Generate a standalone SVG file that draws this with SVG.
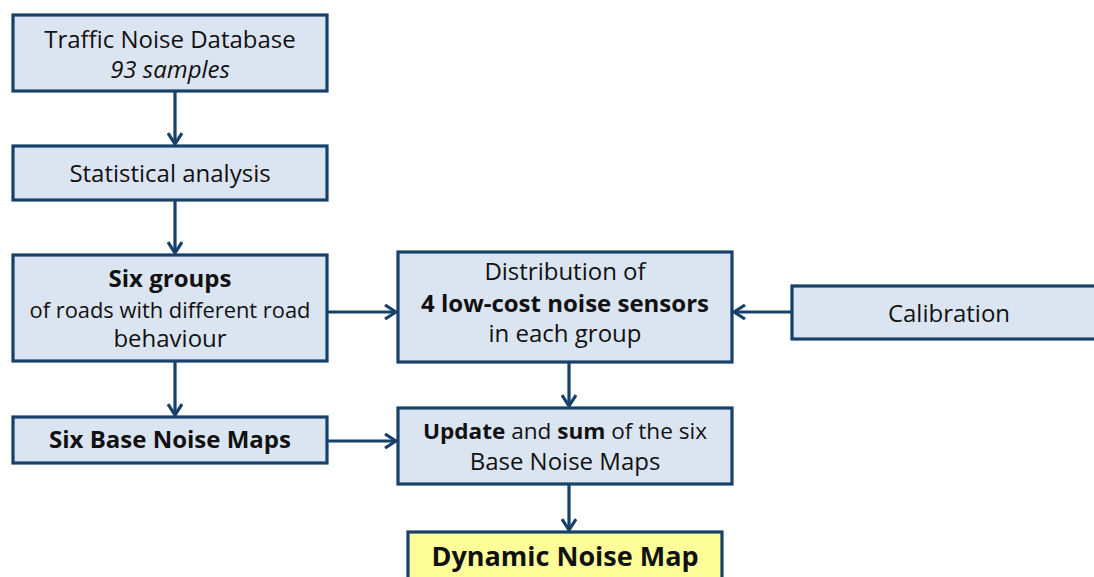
<svg xmlns="http://www.w3.org/2000/svg" width="1094" height="577" viewBox="0 0 1094 577">
<style>
.box{fill:#dbe5f1;stroke:#17406a;stroke-width:3.2}
.yel{fill:#ffff99;stroke:#17406a;stroke-width:3.2}
text{font-family:"Open Sans","Liberation Sans",sans-serif;fill:#111;text-anchor:middle}
.t{font-size:24px}
.s{font-size:22px}
.b{font-weight:bold}
.c{stroke:#17406a;stroke-width:3.2;fill:none}
</style>
<defs>
<marker id="ah" viewBox="0 0 16 16" refX="14" refY="8" markerWidth="16" markerHeight="16" markerUnits="userSpaceOnUse" orient="auto">
<path d="M3,1 L14,8 L3,15" fill="none" stroke="#17406a" stroke-width="3.2"/>
</marker>
</defs>
<g id="connectors">
<line class="c" x1="175" y1="91" x2="175" y2="144" marker-end="url(#ah)"/>
<line class="c" x1="175" y1="200" x2="175" y2="253" marker-end="url(#ah)"/>
<line class="c" x1="175" y1="361" x2="175" y2="415" marker-end="url(#ah)"/>
<line class="c" x1="328" y1="312" x2="396" y2="312" marker-end="url(#ah)"/>
<line class="c" x1="328" y1="441" x2="396" y2="441" marker-end="url(#ah)"/>
<line class="c" x1="792" y1="312" x2="734" y2="312" marker-end="url(#ah)"/>
<line class="c" x1="569" y1="362" x2="569" y2="406" marker-end="url(#ah)"/>
<line class="c" x1="569" y1="484" x2="569" y2="530" marker-end="url(#ah)"/>
</g>
<g id="n1">
<rect class="box" x="13" y="15" width="314" height="76"/>
<text class="t" x="170" y="48">Traffic Noise Database</text>
<text class="t" x="170" y="78" font-style="italic">93 samples</text>
</g>
<g id="n2">
<rect class="box" x="13" y="146" width="314" height="54"/>
<text class="t" x="170" y="182">Statistical analysis</text>
</g>
<g id="n3">
<rect class="box" x="13" y="255" width="314" height="106"/>
<text class="t b" x="170" y="287">Six groups</text>
<text class="s" x="170" y="318" textLength="281" lengthAdjust="spacingAndGlyphs">of roads with different road</text>
<text class="t" x="170" y="347">behaviour</text>
</g>
<g id="n4">
<rect class="box" x="13" y="417" width="314" height="46"/>
<text class="t b" x="170" y="448">Six Base Noise Maps</text>
</g>
<g id="n5">
<rect class="box" x="398" y="252" width="334" height="110"/>
<text class="t" x="565" y="280">Distribution of</text>
<text class="t b" x="565" y="312">4 low-cost noise sensors</text>
<text class="t" x="565" y="342">in each group</text>
</g>
<g id="n6">
<rect class="box" x="398" y="408" width="334" height="76"/>
<text class="s" x="565" y="439" textLength="284" lengthAdjust="spacingAndGlyphs"><tspan class="b">Update</tspan> and <tspan class="b">sum</tspan> of the six</text>
<text class="t" x="565" y="470">Base Noise Maps</text>
</g>
<g id="n7">
<rect class="yel" x="408" y="532" width="314" height="60"/>
<text class="b" x="565" y="566" font-size="27">Dynamic Noise Map</text>
</g>
<g id="n8">
<rect class="box" x="792" y="286" width="320" height="53"/>
<text class="t" x="949" y="322">Calibration</text>
</g>
</svg>
